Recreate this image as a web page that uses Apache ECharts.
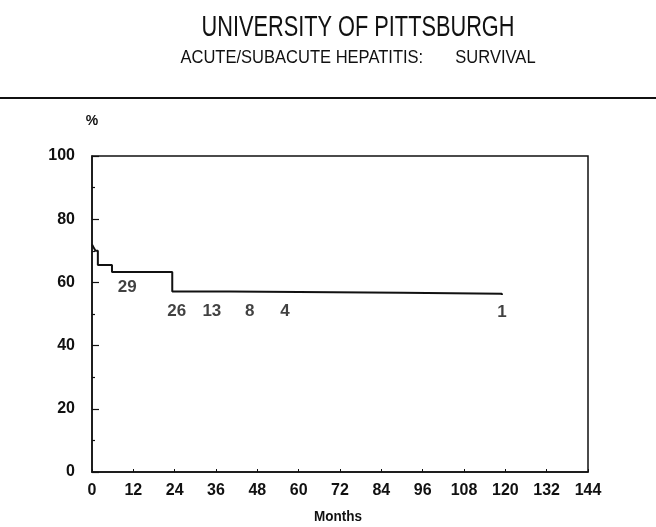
<!DOCTYPE html>
<html>
<head>
<meta charset="utf-8">
<script src="https://cdn.jsdelivr.net/npm/echarts@6/dist/echarts.min.js"></script>
<style>
html,body{margin:0;padding:0;background:#fff;}
#chart{width:656px;height:527px;}
</style>
</head>
<body>
<div id="chart"></div>
<script>
// Survival curve (Kaplan-Meier style step points): months and percent surviving
var months   = [0, 0.5, 1, 1.7, 5.8, 23.3, 40, 60, 90, 119];
var survival = [72, 71, 70, 65.5, 63.3, 57.1, 57, 56.7, 56.4, 56];

// Numbers at risk shown under the curve
var riskLabels = ['29', '26', '13', '8', '4', '1'];
var riskMonths = [10.2, 24.6, 34.8, 45.8, 56, 119];
var riskValues = [58.5, 51, 51, 51, 51, 50.5];

var xTicks = [0, 12, 24, 36, 48, 60, 72, 84, 96, 108, 120, 132, 144];
var yTicks = [0, 20, 40, 60, 80, 100];

var titleText = 'UNIVERSITY OF PITTSBURGH';
var subtitleText = 'ACUTE/SUBACUTE HEPATITIS:       SURVIVAL';
var xName = 'Months';
var yName = '%';

var chart = echarts.init(document.getElementById('chart'), null, {renderer: 'canvas'});
var FONT = '"Liberation Sans", Arial, sans-serif';

var curve = months.map(function (m, i) { return [m, survival[i]]; });
var risk = riskMonths.map(function (m, i) { return {value: [m, riskValues[i]], name: riskLabels[i]}; });

chart.setOption({
  backgroundColor: '#ffffff',
  animation: false,
  graphic: [
    {type: 'text', x: 358, y: 28, scaleX: 0.75,
      style: {text: titleText, font: '29px ' + FONT, fill: '#111', align: 'center', verticalAlign: 'middle'}},
    {type: 'text', x: 358, y: 58, scaleX: 0.87,
      style: {text: subtitleText, font: '19px ' + FONT, fill: '#111', align: 'center', verticalAlign: 'middle'}},
    {type: 'line', shape: {x1: 0, y1: 98, x2: 656, y2: 98}, style: {stroke: '#111', lineWidth: 2}},
    {type: 'text', x: 92, y: 121, style: {text: yName, font: 'bold 14px ' + FONT, fill: '#111', align: 'center', verticalAlign: 'middle'}},
    {type: 'text', x: 338, y: 517, scaleX: 0.9, style: {text: xName, font: 'bold 15px ' + FONT, fill: '#111', align: 'center', verticalAlign: 'middle'}}
  ],
  grid: {left: 92, right: 68, top: 156, bottom: 55, show: true, borderColor: '#111', borderWidth: 1.5, backgroundColor: 'transparent'},
  xAxis: {
    type: 'value', min: 0, max: 144, interval: 12,
    axisLine: {show: true, onZero: false, lineStyle: {color: '#111', width: 1.5}},
    axisTick: {show: true, inside: true, length: 3, lineStyle: {color: '#111'}},
    axisLabel: {color: '#111', fontSize: 16, fontWeight: 'bold', fontFamily: FONT, margin: 11,
      formatter: function (v) { return xTicks.indexOf(v) >= 0 ? String(v) : ''; }},
    splitLine: {show: false}
  },
  yAxis: {
    type: 'value', min: 0, max: 100, interval: 20,
    axisLine: {show: true, lineStyle: {color: '#111', width: 1.5}},
    axisTick: {show: true, inside: true, length: 7, lineStyle: {color: '#111', width: 1.2}},
    minorTick: {show: true, splitNumber: 2, length: 3, lineStyle: {color: '#111', width: 1.2}},
    axisLabel: {color: '#111', fontSize: 16, fontWeight: 'bold', fontFamily: FONT, margin: 17,
      formatter: function (v) { return yTicks.indexOf(v) >= 0 ? String(v) : ''; }},
    splitLine: {show: false}
  },
  series: [
    {
      type: 'line', data: curve, step: 'end', symbol: 'none',
      lineStyle: {color: '#111', width: 2}
    },
    {
      type: 'scatter', data: risk, symbolSize: 0,
      label: {show: true, position: 'inside', formatter: function (p) { return p.name; },
        color: '#111', fontSize: 17, fontWeight: 'bold', fontFamily: FONT}
    }
  ]
});
</script>
</body>
</html>
